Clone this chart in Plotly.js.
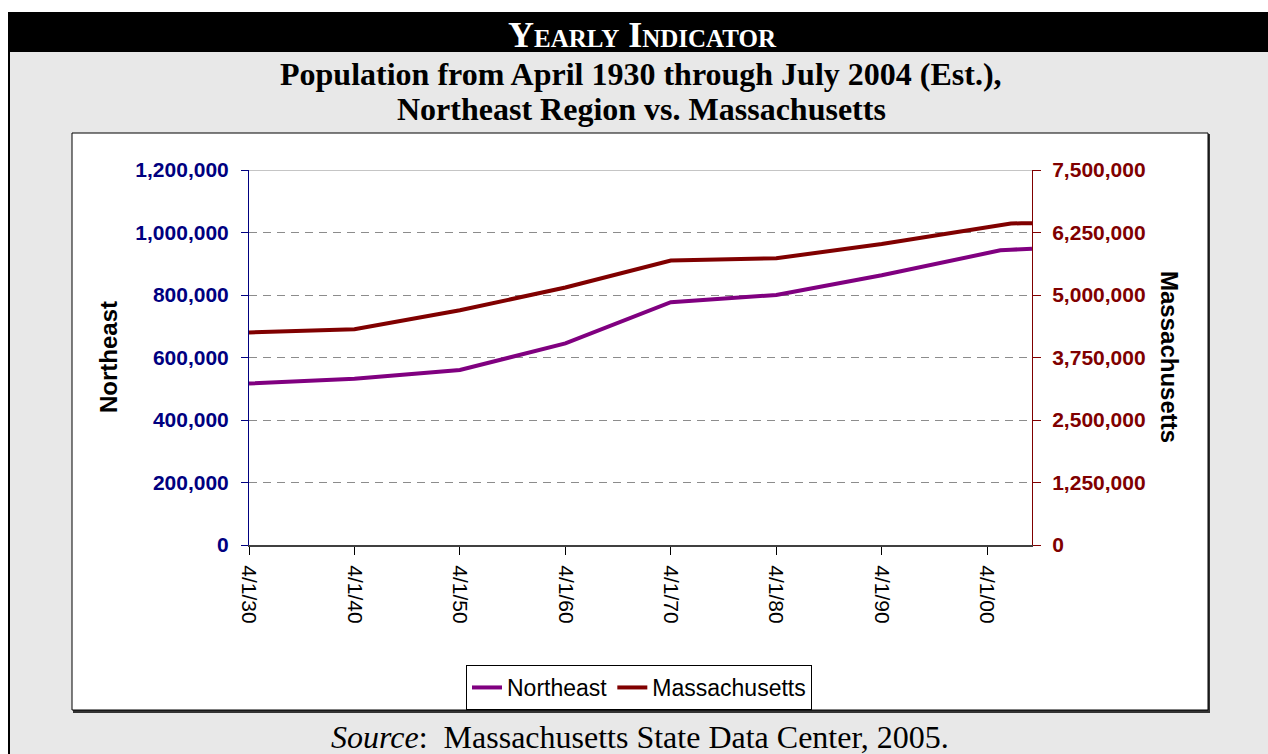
<!DOCTYPE html>
<html>
<head>
<meta charset="utf-8">
<script src="https://cdn.plot.ly/plotly-3.0.1.min.js"></script>
<style>html,body{margin:0;padding:0;background:#fff;}#chart{width:1268px;height:754px;}</style>
</head>
<body>
<div id="chart"></div>
<script>
// ---- data ----
const dates = ['1930-04-01','1940-04-01','1950-04-01','1960-04-01','1970-04-01','1980-04-01','1990-04-01','2000-04-01','2000-07-01','2001-07-01','2002-07-01','2003-07-01','2004-07-01'];
const northeast = [517000, 532000, 560000, 645000, 777000, 800000, 863000, 932000, 934000, 943000, 945000, 947000, 948000];
const massachusetts = [4250000, 4315000, 4695000, 5150000, 5690000, 5735000, 6020000, 6345000, 6365000, 6405000, 6430000, 6435000, 6435000];
const xTickDates = ['1930-04-01','1940-04-01','1950-04-01','1960-04-01','1970-04-01','1980-04-01','1990-04-01','2000-04-01'];
const xTickLabels = ['4/1/30','4/1/40','4/1/50','4/1/60','4/1/70','4/1/80','4/1/90','4/1/00'];
const seriesNames = ['Northeast','Massachusetts'];
const headerText = 'Yearly Indicator';
const titleLine1 = 'Population from April 1930 through July 2004 (Est.),';
const titleLine2 = 'Northeast Region vs. Massachusetts';
const sourceText = '<i>Source</i>:\u00a0 Massachusetts State Data Center, 2005.';

// ---- layout helpers ----
const W = 1268, H = 754;
const px = x => x / W;
const py = y => (H - y) / H;
const SANS = 'Liberation Sans, Arial, sans-serif';
const SERIF = 'Liberation Serif, Times New Roman, serif';
const NAVY = '#000080', MAROON = '#800000', PURPLE = '#800080';

function rect(x0, y0, x1, y1, fill, line) {
  return {type:'rect', xref:'paper', yref:'paper', layer:'below',
    x0:px(x0), x1:px(x1), y0:py(y1), y1:py(y0), fillcolor:fill,
    line: line || {width:0}};
}

const traces = [
  {x: dates, y: northeast, name: seriesNames[0], type:'scatter', mode:'lines',
   line:{color:PURPLE, width:4}, xaxis:'x', yaxis:'y'},
  {x: dates, y: massachusetts, name: seriesNames[1], type:'scatter', mode:'lines',
   line:{color:MAROON, width:4}, xaxis:'x', yaxis:'y2'}
];

const layout = {
  width: W, height: H,
  margin: {l:0, r:0, t:0, b:0, pad:0},
  paper_bgcolor: '#ffffff',
  plot_bgcolor: 'rgba(0,0,0,0)',
  showlegend: true,
  font: {family: SANS, color:'#000'},
  xaxis: {
    type:'date', domain:[px(249), px(1032)], range:['1930-04-01','2004-07-01'],
    tickmode:'array', tickvals: xTickDates, ticktext: xTickLabels, tickangle: 90,
    tickfont:{family:SANS, size:21, color:'#000'},
    ticks:'outside', ticklen:8, tickcolor:'#000', tickwidth:1,
    showline:true, linecolor:'#404040', linewidth:2,
    showgrid:false, zeroline:false, automargin:false, fixedrange:true,
    ticklabelstandoff: 6
  },
  yaxis: {
    domain:[py(545), py(170)], range:[0, 1200000], dtick:200000, tick0:0,
    tickformat:',d', tickfont:{family:SANS, size:21, color:NAVY, weight:'bold'},
    ticks:'outside', ticklen:7, tickcolor:NAVY, tickwidth:1,
    showline:true, linecolor:NAVY, linewidth:1,
    showgrid:true, gridcolor:'#8c8c8c', gridwidth:1, griddash:'8px,6px',
    zeroline:false, automargin:false, fixedrange:true, anchor:'x',
    ticklabelstandoff: 8
  },
  yaxis2: {
    overlaying:'y', side:'right', anchor:'x', range:[0, 7500000], dtick:1250000, tick0:0,
    tickformat:',d', tickfont:{family:SANS, size:21, color:MAROON, weight:'bold'},
    ticks:'outside', ticklen:8, tickcolor:MAROON, tickwidth:1,
    showline:true, linecolor:MAROON, linewidth:1,
    showgrid:false, zeroline:false, automargin:false, fixedrange:true,
    ticklabelstandoff: 7
  },
  yaxis3: {
    overlaying:'y', side:'right', anchor:'x', range:[0, 7500000], dtick:1250000, tick0:0,
    showticklabels:false, ticks:'inside', ticklen:7, tickcolor:MAROON, tickwidth:1,
    showline:false, showgrid:false, zeroline:false, automargin:false, fixedrange:true
  },
  legend: {
    orientation:'h', x:px(639), xanchor:'center', y:py(665), yanchor:'top',
    bgcolor:'#ffffff', bordercolor:'#000', borderwidth:1,
    font:{family:SANS, size:23, color:'#000'}, traceorder:'normal'
  },
  shapes: [
    rect(8, 12, W, H, '#000000'),
    rect(10, 52, W, H, '#e8e8e8'),
    rect(73, 134, 1210, 713, '#333333'),
    rect(72, 133, 1208, 710, '#ffffff', {color:'#000', width:1}),
    {type:'line', xref:'x domain', yref:'y', x0:0, x1:1, y0:1200000, y1:1200000,
     layer:'below', line:{color:'#8c8c8c', width:1}}
  ],
  annotations: [
    {text: headerText, xref:'paper', yref:'paper', x:px(642), y:py(35), xanchor:'center', yanchor:'middle',
     showarrow:false, font:{family:SERIF, size:36, color:'#fff', weight:'bold', variant:'small-caps'}},
    {text: titleLine1, xref:'paper', yref:'paper', x:px(641), y:py(74), xanchor:'center', yanchor:'middle',
     showarrow:false, font:{family:SERIF, size:32, color:'#000', weight:'bold'}},
    {text: titleLine2, xref:'paper', yref:'paper', x:px(641), y:py(109), xanchor:'center', yanchor:'middle',
     showarrow:false, font:{family:SERIF, size:32, color:'#000', weight:'bold'}},
    {text: 'Northeast', xref:'paper', yref:'paper', x:px(108), y:py(357), xanchor:'center', yanchor:'middle',
     textangle:-90, showarrow:false, font:{family:SANS, size:24, color:'#000', weight:'bold'}},
    {text: 'Massachusetts', xref:'paper', yref:'paper', x:px(1170), y:py(357), xanchor:'center', yanchor:'middle',
     textangle:90, showarrow:false, font:{family:SANS, size:24, color:'#000', weight:'bold'}},
    {text: sourceText, xref:'paper', yref:'paper', x:px(640), y:py(737), xanchor:'center', yanchor:'middle',
     showarrow:false, font:{family:SERIF, size:32, color:'#000'}}
  ]
};

Plotly.newPlot('chart', traces, layout, {displayModeBar:false, staticPlot:true});
</script>
</body>
</html>
